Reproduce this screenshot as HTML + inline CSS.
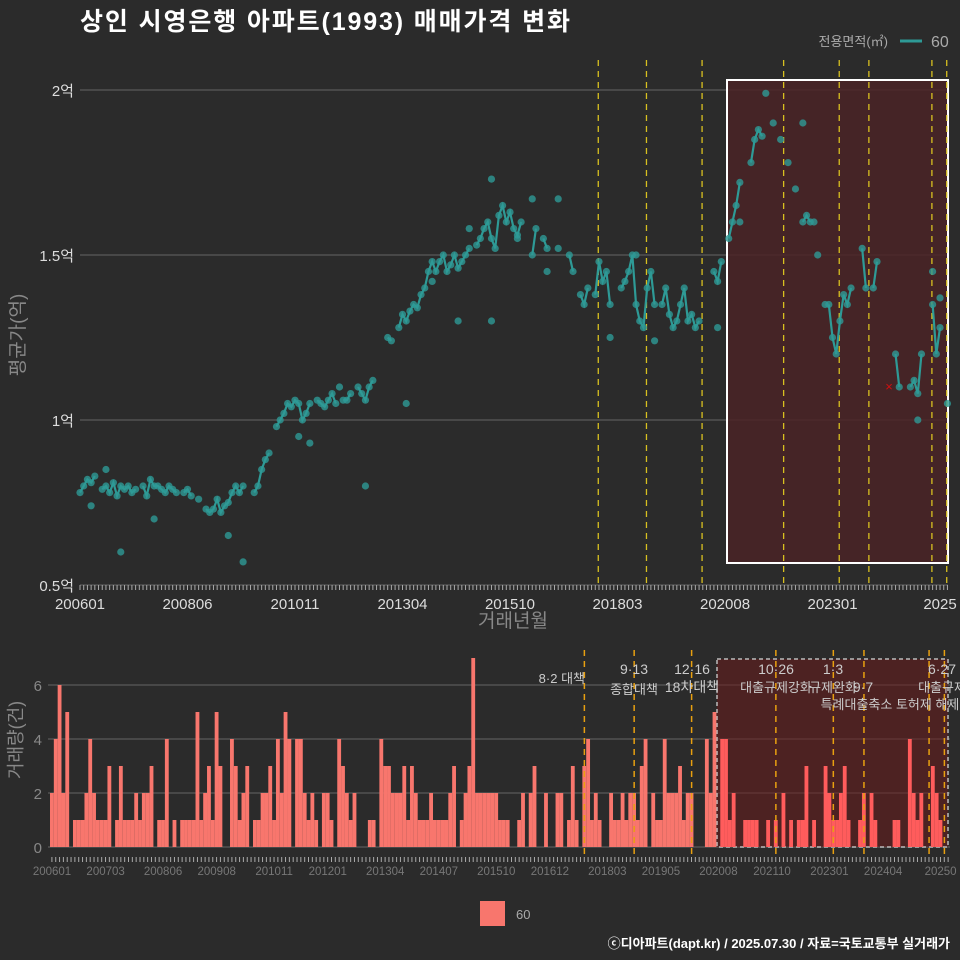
<!DOCTYPE html>
<html><head><meta charset="utf-8">
<style>
body{margin:0;background:#2b2b2b;}
svg{display:block;font-family:"Liberation Sans","Noto Sans CJK KR",sans-serif;}
</style></head>
<body>
<svg id="c" width="960" height="960" viewBox="0 0 960 960">
<rect width="960" height="960" fill="#2b2b2b"/>
<text x="80" y="30" fill="#fff" font-size="25" font-weight="bold" textLength="490">상인 시영은행 아파트(1993) 매매가격 변화</text>
<text x="888" y="46" fill="#aaa" font-size="13" text-anchor="end">전용면적(㎡)</text>
<line x1="900" y1="41" x2="922" y2="41" stroke="#2e9a96" stroke-width="3"/>
<text x="931" y="47" fill="#aaa" font-size="16">60</text>
<text transform="translate(24,335) rotate(-90)" fill="#888" font-size="19" text-anchor="middle">평균가(억)</text>
<text x="513" y="627" fill="#888" font-size="19" text-anchor="middle">거래년월</text>
<text transform="translate(22,740) rotate(-90)" fill="#888" font-size="18" text-anchor="middle">거래량(건)</text>
<g id="topg"></g>
<g id="botg"></g>
<rect x="480" y="901" width="25" height="25" fill="#f8766d"/>
<text x="516" y="919" fill="#aaa" font-size="13">60</text>
<text x="950" y="948" fill="#fff" font-size="13" font-weight="bold" text-anchor="end">ⓒ디아파트(dapt.kr) / 2025.07.30 / 자료=국토교통부 실거래가</text>
</svg>
<script>
const counts=[2,4,6,2,5,0,1,1,1,2,4,2,1,1,1,3,0,1,3,1,1,1,2,1,2,2,3,0,1,1,4,0,1,0,1,1,1,1,5,1,2,3,1,5,3,0,0,4,3,1,2,3,0,1,1,2,2,3,1,4,2,5,4,0,4,4,2,1,2,1,0,2,2,1,0,4,3,2,1,2,0,0,0,1,1,0,4,3,3,2,2,2,3,1,3,2,1,1,1,2,1,1,1,1,2,3,0,1,2,3,7,2,2,2,2,2,2,1,1,1,0,0,1,2,0,2,3,0,0,2,0,0,2,2,0,1,3,1,0,3,4,1,2,1,0,0,2,1,1,2,1,2,2,1,3,4,0,2,1,1,4,2,2,2,3,1,2,2,0,0,0,4,2,5,0,4,4,1,2,0,0,1,1,1,1,0,0,1,0,1,0,2,0,1,0,1,1,3,0,1,0,0,3,2,1,1,2,3,1,0,0,1,2,0,2,1,0,0,0,0,1,1,0,0,4,2,1,2,0,0,3,2,1,0,0];
const prices=[.78,.80,.82,.81,.83,.80,.79,.80,.78,.81,.77,.80,
.79,.80,.78,.79,.81,.80,.77,.82,.80,.80,.79,.78,
.80,.79,.78,.80,.78,.79,.77,.78,.76,.75,.73,.72,
.73,.76,.72,.74,.75,.78,.80,.78,.80,.76,.76,.78,
.80,.85,.88,.90,.95,.98,1.00,1.02,1.05,1.04,1.06,1.05,
1.00,1.02,1.05,1.04,1.06,1.05,1.04,1.06,1.08,1.05,1.07,1.06,
1.06,1.08,1.05,1.10,1.08,1.06,1.10,1.12,1.15,1.18,1.10,1.25,
1.24,1.25,1.28,1.32,1.30,1.33,1.35,1.34,1.38,1.40,1.45,1.48,
1.45,1.48,1.50,1.45,1.47,1.50,1.46,1.48,1.50,1.52,1.55,1.53,
1.55,1.58,1.60,1.55,1.52,1.62,1.65,1.60,1.63,1.58,1.56,1.60,
1.62,1.55,1.50,1.58,1.60,1.55,1.52,1.50,1.48,1.52,1.50,1.55,
1.50,1.45,1.40,1.38,1.35,1.40,1.45,1.38,1.48,1.42,1.45,1.35,
1.32,1.38,1.40,1.42,1.45,1.50,1.35,1.30,1.28,1.40,1.45,1.35,
1.30,1.35,1.40,1.32,1.28,1.30,1.35,1.40,1.30,1.32,1.28,1.30,
1.35,1.42,1.40,1.45,1.42,1.48,1.52,1.55,1.60,1.65,1.72,1.88,
1.80,1.78,1.85,1.88,1.86,1.90,1.82,1.90,1.88,1.85,1.80,1.78,
1.75,1.70,1.65,1.60,1.62,1.60,1.55,1.50,1.45,1.40,1.35,1.25,
1.20,1.30,1.38,1.35,1.40,1.45,1.38,1.52,1.40,1.35,1.40,1.48,
1.42,1.35,1.28,1.25,1.20,1.10,1.15,1.05,1.10,1.12,1.08,1.20,
1.25,1.15,1.35,1.20,1.28,1.05,1.06];
const extraMonths=[11,44,40,77,88,59,111,111,129,143,155,185,195,198,201,234,230,232,226,126,102,3,7,20,62,70,95,105,118,122,150,172,178];
const extraPrices=[0.60,0.57,0.65,0.80,1.05,0.95,1.30,1.73,1.67,1.25,1.24,1.99,1.90,1.60,1.35,1.05,1.45,1.37,1.00,1.45,1.30,0.74,0.85,0.70,0.93,1.10,1.42,1.58,1.55,1.67,1.50,1.28,1.60];
const topTickMonths=[0,29,58,87,116,145,174,203,232];
const topTickLabels=["200601","200806","201011","201304","201510","201803","202008","202301","2025"];
const botTickMonths=[0,14,29,43,58,72,87,101,116,130,145,159,174,188,203,217,232];
const botTickLabels=["200601","200703","200806","200908","201011","201201","201304","201407","201510","201612","201803","201905","202008","202110","202301","202404","20250"];
const yTicks=[0.5,1,1.5,2];
const yTickLabels=["0.5억","1억","1.5억","2억"];
const cTicks=[0,2,4,6];
const eventMonths=[139,152,167,189,204,212,229,233];
const ns="http://www.w3.org/2000/svg";
const xT=m=>80+m*3.707, yT=p=>585-(p-0.5)*330;
const xB=m=>50+m*3.83, yB=c=>847-c*27;
function mk(parent,tag,attrs){const e=document.createElementNS(ns,tag);for(const k in attrs)e.setAttribute(k,attrs[k]);parent.appendChild(e);return e;}
const topG=document.getElementById('topg'), botG=document.getElementById('botg');
yTicks.forEach((v,i)=>{
 const l=mk(topG,'line',{x1:80,x2:948,y1:yT(v),y2:yT(v),stroke:'#5a5a5a','stroke-width':1.3});
 
 
 const t=mk(topG,'text',{x:74,y:yT(v)+6,fill:'#ddd','font-size':15,'text-anchor':'end'});t.textContent=yTickLabels[i];
 
 
});
const hl=mk(topG,'rect',{x:727,y:80,width:221,height:483,fill:'#4a2326','fill-opacity':0.85,stroke:'#fff','stroke-width':2});


for(let m=0;m<235;m++){const k=mk(topG,'line',{x1:xT(m),x2:xT(m),y1:585,y2:590,stroke:'#aaa','stroke-width':1});
 
 }
topTickMonths.forEach((m,i)=>{const t=mk(topG,'text',{x:xT(m),y:609,fill:'#ddd','font-size':15,'text-anchor':'middle'});t.textContent=topTickLabels[i];
 
 });
eventMonths.forEach(m=>{const l=mk(topG,'line',{x1:xT(m)+3,x2:xT(m)+3,y1:60,y2:585,stroke:'#d8c020','stroke-width':1.3,'stroke-dasharray':'6,5'});
 
 });
extraMonths.forEach((m,i)=>{const d=mk(topG,'circle',{cx:xT(m),cy:yT(extraPrices[i]),r:3.6,fill:'#2e9a96','fill-opacity':0.8});
 
 });
let seg=[];
const flush=()=>{if(seg.length>1){const p=mk(topG,'polyline',{points:seg.join(' '),fill:'none',stroke:'#2e9a96','stroke-width':2.2});
 
 }seg=[];};
prices.forEach((p,m)=>{if(counts[m]>0)seg.push(xT(m)+','+yT(p));else flush();});flush();
prices.forEach((p,m)=>{if(counts[m]>0){const d=mk(topG,'circle',{cx:xT(m),cy:yT(p),r:3.6,fill:'#2e9a96','fill-opacity':0.8});
 
 }});
const xm=mk(topG,'text',{x:889,y:391,fill:'#d01010','font-size':13,'text-anchor':'middle'});xm.textContent='×';


cTicks.forEach(v=>{const l=mk(botG,'line',{x1:48,x2:950,y1:yB(v),y2:yB(v),stroke:'#5a5a5a','stroke-width':1.2});
 
 
 const t=mk(botG,'text',{x:42,y:yB(v)+6,fill:'#888','font-size':15,'text-anchor':'end'});t.textContent=v;
 
 });
const hb=mk(botG,'rect',{x:717,y:659,width:231,height:188,fill:'#6a1c1c','fill-opacity':0.55,stroke:'#bbb','stroke-width':1.5,'stroke-dasharray':'4,3'});


counts.forEach((c,m)=>{if(c>0){const b=mk(botG,'rect',{x:xB(m),y:yB(c),width:3.83,height:c*27,fill:m>=174?'#ff5c5c':'#f8766d'});
 
 }});
for(let m=0;m<235;m++){const k=mk(botG,'line',{x1:xB(m)+1.9,x2:xB(m)+1.9,y1:857,y2:862,stroke:'#aaa','stroke-width':1});
 
 }
botTickMonths.forEach((m,i)=>{const t=mk(botG,'text',{x:xB(m)+2,y:875,fill:'#777','font-size':11.5,'text-anchor':'middle'});t.textContent=botTickLabels[i];
 
 });
eventMonths.forEach(m=>{const l=mk(botG,'line',{x1:xB(m)+2,x2:xB(m)+2,y1:650,y2:857,stroke:'#e8a010','stroke-width':1.5,'stroke-dasharray':'6,5'});
 
 });
const labels=[[585,683,'8·2 대책','end'],[634,674,'9·13','middle'],[634,694,'종합대책','middle'],[692,674,'12·16','middle'],[692,692,'18차대책','middle'],[776,674,'10·26','middle'],[776,692,'대출규제강화','middle'],[833,674,'1·3','middle'],[833,692,'규제완화','middle'],[863,692,'9·7','middle'],[890,709,'특례대출축소 토허제 해제','middle'],[942,674,'6·27','middle'],[942,692,'대출규제','middle']];
labels.forEach(a=>{const t=mk(botG,'text',{x:a[0],y:a[1],fill:'#ccc','font-size':a[2].length<6&&/\d/.test(a[2])?14:13,'text-anchor':a[3]});t.textContent=a[2];
 
 });
</script>
</body></html>
